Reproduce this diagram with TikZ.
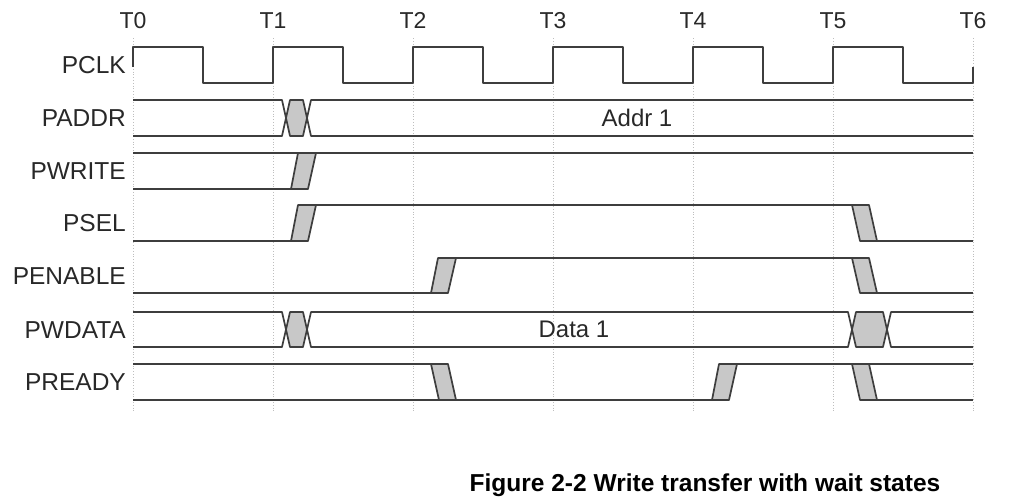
\documentclass[tikz,border=0pt]{standalone}
\usepackage{fontspec}
\setmainfont{Liberation Sans}
\definecolor{sigc}{RGB}{62,62,62}
\definecolor{trfill}{RGB}{200,200,200}
\definecolor{gridc}{RGB}{190,190,190}
\definecolor{txtc}{RGB}{40,40,40}
\tikzset{
  sig/.style={draw=sigc, line width=1.7pt, line join=round},
  trans/.style={sig, fill=trfill},
  hexfill/.style={fill=trfill},
  grid line/.style={draw=gridc, line width=0.8pt, dotted},
  siglabel/.style={anchor=base east, text=txtc, inner sep=0pt, font=\fontsize{24.5}{28}\selectfont},
  tlabel/.style={anchor=base, text=txtc, inner sep=0pt, font=\fontsize{23}{27}\selectfont},
  valtext/.style={anchor=base, text=txtc, inner sep=0pt, font=\fontsize{24}{28}\selectfont},
  captext/.style={anchor=base, inner sep=0pt, font=\bfseries\fontsize{24.5}{29}\selectfont}
}
% rising transition: x0, top, bottom
\newcommand\myrise[3]{\filldraw[trans] (#1,#3) -- (#1+7,#2) -- (#1+25,#2) -- (#1+17,#3) -- cycle;}
% falling transition: x0, top, bottom
\newcommand\myfall[3]{\filldraw[trans] (#1,#2) -- (#1+17,#2) -- (#1+25,#3) -- (#1+8,#3) -- cycle;}
\begin{document}
\begin{tikzpicture}[x=1pt,y=-1pt]
\useasboundingbox (0,0) rectangle (1028,500);
% grid lines and time labels
\foreach \i in {0,...,6}{
  \draw[grid line] ({133+140*\i},38) -- ({133+140*\i},412);
  \node[tlabel] (t\i) at ({133+140*\i},29) {T\i};
}
% labels
\node[siglabel] (lpclk) at (126,73.5) {PCLK};
\node[siglabel] (lpaddr) at (126,126.5) {PADDR};
\node[siglabel] (lpwrite) at (126,179.5) {PWRITE};
\node[siglabel] (lpsel) at (126,231.5) {PSEL};
\node[siglabel] (lpenable) at (126,284) {PENABLE};
\node[siglabel] (lpwdata) at (126,338) {PWDATA};
\node[siglabel] (lpready) at (126,390) {PREADY};
% PCLK
\draw[sig] (133,67) -- (133,47) -- (203,47) -- (203,83) -- (273,83) -- (273,47)
  -- (343,47) -- (343,83) -- (413,83) -- (413,47) -- (483,47) -- (483,83)
  -- (553,83) -- (553,47) -- (623,47) -- (623,83) -- (693,83) -- (693,47)
  -- (763,47) -- (763,83) -- (833,83) -- (833,47) -- (903,47) -- (903,83)
  -- (973,83) -- (973,67);
% PADDR
\fill[hexfill] (286,118) -- (290,100) -- (303,100) -- (307,118) -- (303,136) -- (290,136) -- cycle;
\draw[sig] (133,100) -- (282,100) -- (290,136) -- (303,136) -- (311,100) -- (973,100);
\draw[sig] (133,136) -- (282,136) -- (290,100) -- (303,100) -- (311,136) -- (973,136);
\node[valtext] (addr) at (637,126.5) {Addr 1};
% PWRITE
\draw[sig] (133,153) -- (973,153);
\draw[sig] (133,189) -- (291,189);
\myrise{291}{153}{189}
% PSEL
\draw[sig] (133,241) -- (291,241);
\draw[sig] (298,205) -- (869,205);
\draw[sig] (860,241) -- (973,241);
\myrise{291}{205}{241}
\myfall{852}{205}{241}
% PENABLE
\draw[sig] (133,293) -- (431,293);
\draw[sig] (438,258) -- (869,258);
\draw[sig] (860,293) -- (973,293);
\myrise{431}{258}{293}
\myfall{852}{258}{293}
% PWDATA
\fill[hexfill] (286,329.5) -- (290,312) -- (303,312) -- (307,329.5) -- (303,347) -- (290,347) -- cycle;
\fill[hexfill] (852,329.5) -- (856,312) -- (883,312) -- (887,329.5) -- (883,347) -- (856,347) -- cycle;
\draw[sig] (133,312) -- (282,312) -- (290,347) -- (303,347) -- (311,312) -- (848,312) -- (856,347) -- (883,347) -- (891,312) -- (973,312);
\draw[sig] (133,347) -- (282,347) -- (290,312) -- (303,312) -- (311,347) -- (848,347) -- (856,312) -- (883,312) -- (891,347) -- (973,347);
\node[valtext] (data) at (574,337.5) {Data 1};
% PREADY
\draw[sig] (133,364) -- (448,364);
\draw[sig] (133,400) -- (712,400);
\draw[sig] (719,364) -- (973,364);
\draw[sig] (860,400) -- (973,400);
\myfall{431}{364}{400}
\myrise{712}{364}{400}
\myfall{852}{364}{400}
% caption
\node[captext] (cap) at (705,491.5) {Figure 2-2 Write transfer with wait states};
\end{tikzpicture}
\end{document}
